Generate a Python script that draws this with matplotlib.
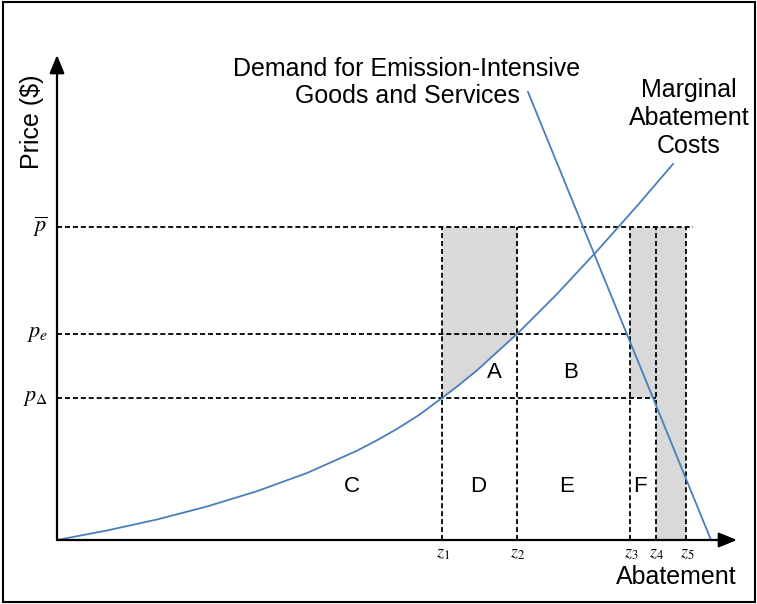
import numpy as np
import matplotlib.pyplot as plt
from matplotlib.patches import Rectangle

plt.rcParams['font.family'] = ['Liberation Sans', 'DejaVu Sans']
plt.rcParams['mathtext.fontset'] = 'stix'

# price levels and abatement points (chart units)
p_bar, p_e, p_delta = 31.3, 20.6, 14.2
z_vals = [38.5, 46.0, 57.3, 59.9, 62.9]
z_labels = [r'$z_1$', r'$z_2$', r'$z_3$', r'$z_4$', r'$z_5$']
p_vals = [p_bar, p_e, p_delta]
p_labels = [r'$\overline{p}$', r'$p_e$', r'$p_\Delta$']

# marginal abatement cost curve
mac_x = [0, 5, 10, 15, 20, 25, 30, 32, 34, 36.2, 38.5, 40.2, 42, 46, 50, 54, 58, 61.6]
mac_y = [0, 0.95, 2.05, 3.35, 4.88, 6.7, 8.93, 9.97, 11.11, 12.5, 14.2, 15.5, 16.97,
         20.6, 24.6, 28.9, 33.4, 37.6]

# demand line end points
demand_x = [47.1, 65.4]
demand_y = [44.8, 0]

region_names = ['A', 'B', 'C', 'D', 'E', 'F']
region_x = [43.7, 51.4, 29.5, 42.1, 51.0, 58.3]
region_y = [16.7, 16.7, 5.3, 5.3, 5.3, 5.3]

fig = plt.figure(figsize=(7.57, 6.04), dpi=100)
fig.patches.append(Rectangle((3/757, 2/604), 752/757, 600/604, transform=fig.transFigure,
                             fill=False, edgecolor='black', linewidth=1.5))
ax = fig.add_axes([57/757, 64/604, 688/757, 500/604])
ax.set_xlim(0, 68.8)
ax.set_ylim(0, 50)
ax.axis('off')

blue = '#4a7ebb'
grey = '#d9d9d9'
dash = dict(color='black', linewidth=1.3, linestyle=(0, (2.8, 1.6)))

# shaded areas
mx = np.array(mac_x)
my = np.array(mac_y)
sel = (mx >= z_vals[0]) & (mx <= z_vals[1])
ax.fill_between(mx[sel], my[sel], p_bar, color=grey, linewidth=0)
ax.fill_between([z_vals[2], z_vals[3]], p_delta, p_bar, color=grey, linewidth=0)
ax.fill_between([z_vals[3], z_vals[4]], 0, p_bar, color=grey, linewidth=0)

# dashed guides
ax.plot([0, z_vals[4] + 0.7], [p_bar, p_bar], **dash)
ax.plot([0, z_vals[2]], [p_e, p_e], **dash)
ax.plot([0, z_vals[3]], [p_delta, p_delta], **dash)
for z in z_vals:
    ax.plot([z, z], [0, p_bar], **dash)

# curves
ax.plot(mac_x, mac_y, color=blue, linewidth=1.3)
ax.plot(demand_x, demand_y, color=blue, linewidth=1.3)

# axes with arrows
arrow = dict(arrowstyle='-|>,head_length=1.1,head_width=0.45', color='black', lw=1.6,
             shrinkA=0, shrinkB=0)
ax.annotate('', xy=(68.0, 0), xytext=(0, 0), arrowprops=arrow, annotation_clip=False)
ax.annotate('', xy=(0, 48.5), xytext=(0, 0), arrowprops=arrow, annotation_clip=False)

# tick labels
for p, lab in zip(p_vals, p_labels):
    ax.text(-0.9, p, lab, ha='right', va='center', fontsize=16)
for z, lab in zip(z_vals, z_labels):
    ax.text(z + 0.1, -0.5, lab, ha='center', va='top', fontsize=13)

for name, x, y in zip(region_names, region_x, region_y):
    ax.text(x, y, name, ha='center', va='center', fontsize=16)

ax.text(35.0, 45.75, 'Demand for Emission-Intensive\nGoods and Services', ha='center',
        va='center', fontsize=18, linespacing=1.15)
ax.text(63.2, 42.2, 'Marginal\nAbatement\nCosts', ha='center', va='center',
        fontsize=18, linespacing=1.2)
ax.text(-2.5, 41.8, 'Price ($)', rotation=90, ha='center', va='center', fontsize=18)
ax.text(61.9, -3.7, 'Abatement', ha='center', va='center', fontsize=18)

plt.savefig('out.png', dpi=100)
